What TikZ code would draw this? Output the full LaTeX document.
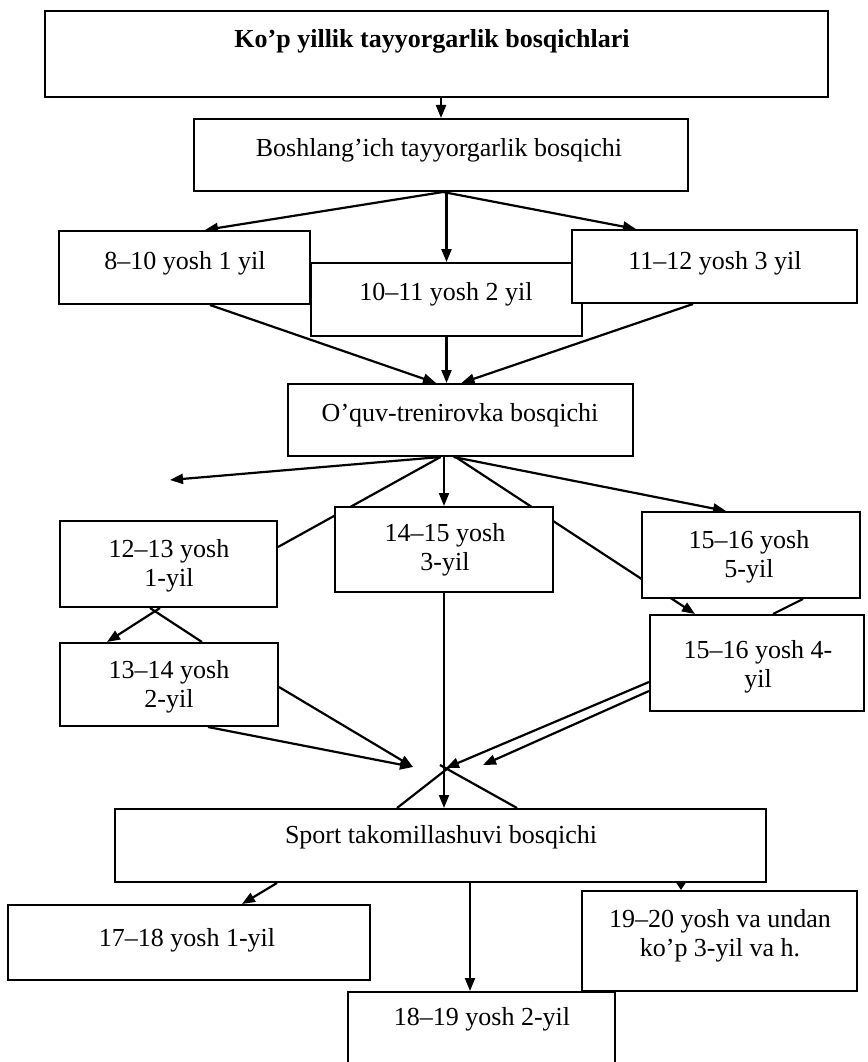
\documentclass[tikz,border=0pt]{standalone}
\usepackage{fontspec}
\setmainfont{Liberation Serif}
\usetikzlibrary{arrows.meta,calc}
\pgfdeclarelayer{bg}
\pgfsetlayers{bg,main}
\begin{document}
\begin{tikzpicture}[x=1pt,y=-1pt,
  box/.style={draw=black, line width=2pt, fill=white, inner sep=0pt},
  txt/.style={anchor=base, inner sep=0pt, font=\fontsize{26}{29}\selectfont},
  conn/.style={line width=2.2pt, black},
  arr/.style={conn, -{Triangle[length=13pt,width=10pt]}},
  sarr/.style={conn, -{Triangle[length=8pt,width=10pt]}},
]
\useasboundingbox (0,0) rectangle (867,1062);

% boxes
\node[box, minimum width=783, minimum height=86] (top) at (436.5,54) {};
\node[box, minimum width=494, minimum height=72] (b2) at (441,155) {};
\node[box, minimum width=251, minimum height=73] (a1) at (184.5,267.5) {};
\node[box, minimum width=271, minimum height=73] (a2) at (446.5,299.5) {};
\node[box, minimum width=285, minimum height=73] (a3) at (714.5,266.5) {};
\node[box, minimum width=345, minimum height=72] (oq) at (460.5,420) {};
\node[box, minimum width=217, minimum height=86] (c1) at (168.5,564) {};
\node[box, minimum width=218, minimum height=83] (c2) at (169,684.5) {};
\node[box, minimum width=218, minimum height=85] (c3) at (444,549.5) {};
\node[box, minimum width=218, minimum height=86] (c5) at (751,555) {};
\node[box, minimum width=214, minimum height=96] (c4) at (757,663) {};
\node[box, minimum width=651, minimum height=73] (sp) at (440.5,845.5) {};
\node[box, minimum width=362, minimum height=75] (d1) at (189,942.5) {};
\node[box, minimum width=267, minimum height=83] (d2) at (481.5,1033.5) {};
\node[box, minimum width=275, minimum height=100] (d3) at (719.5,941) {};

% texts
\node[txt] (ttop) at (432,48) {\textbf{Ko’p yillik tayyorgarlik bosqichlari}};
\node[txt] (tb2) at (439,156) {Boshlang’ich tayyorgarlik bosqichi};
\node[txt] (ta1) at (185,269) {8–10 yosh 1 yil};
\node[txt] (ta2) at (446,300) {10–11 yosh 2 yil};
\node[txt] (ta3) at (715,269) {11–12 yosh 3 yil};
\node[txt] (toq) at (460,421) {O’quv-trenirovka bosqichi};
\node[txt] (tc1) at (169,557) {\begin{tabular}[t]{@{}c@{}}12–13 yosh\\1-yil\end{tabular}};
\node[txt] (tc2) at (169,678) {\begin{tabular}[t]{@{}c@{}}13–14 yosh\\2-yil\end{tabular}};
\node[txt] (tc3) at (445,541) {\begin{tabular}[t]{@{}c@{}}14–15 yosh\\3-yil\end{tabular}};
\node[txt] (tc5) at (749,548) {\begin{tabular}[t]{@{}c@{}}15–16 yosh\\5-yil\end{tabular}};
\node[txt] (tc4) at (758,658) {\begin{tabular}[t]{@{}c@{}}15–16 yosh 4-\\yil\end{tabular}};
\node[txt] (tsp) at (441,843) {Sport takomillashuvi bosqichi};
\node[txt] (td1) at (187,946) {17–18 yosh 1-yil};
\node[txt] (td2) at (482,1025) {18–19 yosh 2-yil};
\node[txt] (td3) at (720,927) {\begin{tabular}[t]{@{}c@{}}19–20 yosh va undan\\ko’p 3-yil va h.\end{tabular}};

\coordinate (conv) at (446,768);
\coordinate (free) at (170,480);

\begin{pgfonlayer}{bg}
% top -> b2
\draw[arr] (b2.north |- top.south) -- (b2.north);
% b2 -> a1, a2, a3
\draw[arr] ($(b2.south)+(2,0)$) -- ($(a1.north)+(20.5,0)$);
\draw[arr] (a2.north |- b2.south) -- (a2.north);
\draw[arr] ($(b2.south)+(2,0)$) -- ($(a3.north)+(-78.5,0)$);
% a1, a2, a3 -> oq
\draw[arr] ($(a1.south)+(25.5,0)$) -- ($(oq.north)+(-24.5,0)$);
\draw[arr] (a2.south) -- (a2.south |- oq.north);
\draw[arr] ($(a3.south)+(-21.5,0)$) -- ($(oq.north)+(1,0)$);
% oq -> ...
\draw[arr] ($(oq.south)+(-20,0)$) -- (free);
\draw[conn] ($(oq.south)+(-20,0)$) -- ($(c1.east)+(0,-17)$);
\draw[arr] (c3.north |- oq.south) -- (c3.north);
\draw[arr] ($(oq.south)+(-5,0)$) -- ($(c4.north)+(-62,0)$);
\draw[arr] ($(oq.south)+(-7,0)$) -- ($(c5.north)+(-25,0)$);
% c5 -> c4
\draw[conn] ($(c5.south)+(52,0)$) -- ($(c4.north)+(16,0)$);
% c1 -> c2
\draw[arr] ($(c1.south)+(-8.5,0)$) -- ($(c2.north)+(-62,0)$);
\draw[conn] ($(c1.south)+(-18.5,0)$) -- ($(c2.north)+(33,0)$);
% c2 -> conv
\draw[arr] ($(c2.east)+(0,2.5)$) -- ($(conv)+(-33,-1)$);
\draw[arr] ($(c2.south)+(39,0)$) -- ($(conv)+(-33,-1)$);
% c4 -> conv
\draw[arr] ($(c4.west)+(0,19)$) -- (conv);
\draw[arr] ($(c4.west)+(0,28)$) -- ($(conv)+(37,-3)$);
% c3 -> sp
\draw[arr] (c3.south) -- (c3.south |- sp.north);
% crossing lines above sp
\draw[conn] ($(sp.north)+(-43.5,0)$) -- ($(conv)+(6,-3)$);
\draw[conn] ($(sp.north)+(76.5,0)$) -- ($(conv)+(-6,-3)$);
% sp -> d1, d2, d3
\draw[arr] ($(sp.south)+(-163.5,0)$) -- ($(d1.north)+(53,0)$);
\draw[arr] ($(sp.south)+(29.5,0)$) -- ($(d2.north)+(-11.5,0)$);
\draw[sarr] ($(sp.south)+(240.5,0)$) -- ($(d3.north)+(-38.5,0)$);
\end{pgfonlayer}
\end{tikzpicture}
\end{document}
